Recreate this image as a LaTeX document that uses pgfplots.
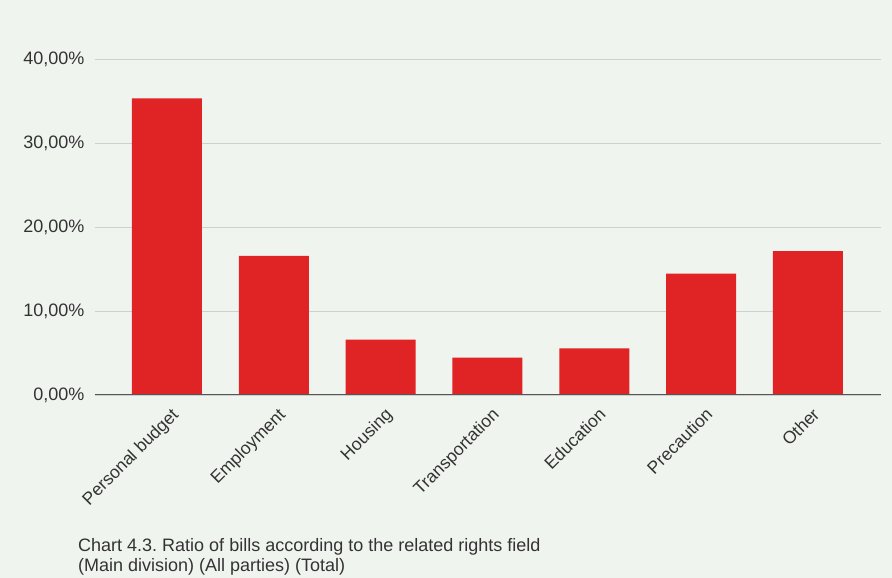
\documentclass[border=0pt]{standalone}
\usepackage{fontspec}
\setmainfont{Liberation Sans}
\usepackage{pgfplots}
\pgfplotsset{compat=1.18}
\definecolor{bg}{HTML}{F0F4EF}
\definecolor{barred}{HTML}{E02324}
\definecolor{gridc}{HTML}{CDD0CD}
\definecolor{axc}{HTML}{555555}
\definecolor{txt}{HTML}{333333}
\frenchspacing
\begin{document}
\begin{tikzpicture}[x=1pt,y=1pt]
\fill[bg] (0,0) rectangle (892,578);
\useasboundingbox (0,0) rectangle (892,578);
\begin{axis}[
  at={(95pt,183pt)}, anchor=south west,
  scale only axis, width=786pt, height=336pt,
  xmin=-0.674, xmax=6.684, ymin=0, ymax=40,
  enlargelimits=false,
  ybar, bar width=70pt,
  axis line style={draw=none},
  major tick length=0pt,
  ymajorgrids, grid style={gridc, line width=0.9pt},
  ytick={0,10,20,30,40},
  yticklabels={{0,00\%},{10,00\%},{20,00\%},{30,00\%},{40,00\%}},
  yticklabel style={font=\fontsize{18}{21}\selectfont, text=txt, xshift=-7pt},
  xtick={0,1,2,3,4,5,6},
  xticklabels={Personal budget,Employment,Housing,Transportation,Education,Precaution,Other},
  xticklabel style={font=\fontsize{17.5}{21}\selectfont, text=txt, xshift=3.5pt, yshift=-7pt, rotate=45, anchor=north east},
]
\addplot[fill=barred, draw=none] coordinates {(0,35.3) (1,16.55) (2,6.6) (3,4.46) (4,5.54) (5,14.46) (6,17.14)};
\draw[axc, line width=1.3pt] (axis cs:-0.674,0) -- (axis cs:6.684,0);
\end{axis}
\node[anchor=base west, text=txt, font=\fontsize{18}{21}\selectfont, inner sep=0pt] at (78,26) {Chart 4.3. Ratio of bills according to the related rights field};
\node[anchor=base west, text=txt, font=\fontsize{18}{21}\selectfont, inner sep=0pt] at (78,6) {(Main division) (All parties) (Total)};
\end{tikzpicture}
\end{document}
